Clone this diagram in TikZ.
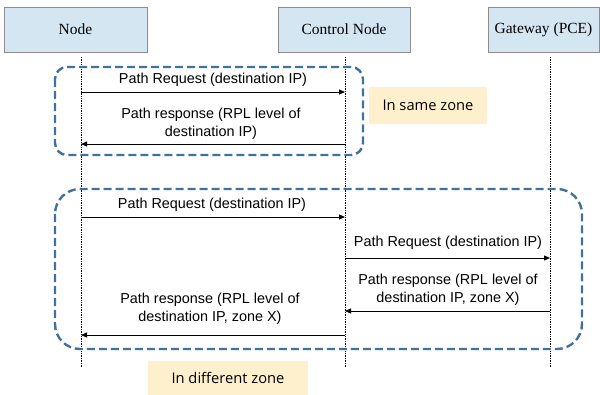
\documentclass[tikz,border=0pt]{standalone}
\usepackage{fontspec}
\setmainfont{Liberation Serif}
\setsansfont{Liberation Sans}
\newfontfamily\zonefont{Open Sans}
\usetikzlibrary{arrows.meta}
\definecolor{hdrfill}{HTML}{D5E6F3}
\definecolor{hdrline}{HTML}{8C8C8C}
\definecolor{zoneblue}{HTML}{41719C}
\definecolor{notefill}{HTML}{FEF0CD}
\begin{document}
\begin{tikzpicture}[x=1pt,y=-1pt,
  header/.style={draw=hdrline, fill=hdrfill, line width=0.6pt, minimum height=45pt, inner sep=0pt, font=\fontsize{15.5}{18}\selectfont},
  lifeline/.style={densely dotted, line width=0.7pt},
  msg/.style={line width=1pt, -{Triangle[length=6pt,width=5pt]}},
  lbl/.style={font=\sffamily\fontsize{14.4}{18}\selectfont, align=center, inner sep=0pt},
  zone/.style={draw=zoneblue, line width=2.4pt, dash pattern=on 8pt off 4pt},
  note/.style={fill=notefill, inner sep=0pt, font=\zonefont\fontsize{14.7}{18}\selectfont}]
\useasboundingbox (0,0) rectangle (600,394);

% header boxes
\node[header, minimum width=143pt] (hnode) at (75.5,29.5) {Node};
\node[header, minimum width=132pt] (hctrl) at (344,29.5) {Control Node};
\node[header, minimum width=111pt] (hgate) at (543.5,29.5) {Gateway (PCE)};

% lifelines
\coordinate (ntop) at (81,57);  \coordinate (nbot) at (81,368);
\coordinate (ctop) at (345,57); \coordinate (cbot) at (345,368);
\coordinate (gtop) at (550,57); \coordinate (gbot) at (550,368);
\draw[lifeline] (ntop) -- (nbot);
\draw[lifeline] (ctop) -- (cbot);
\draw[lifeline] (gtop) -- (gbot);

% zone frames
\draw[zone, rounded corners=12pt] (55,67) rectangle (363,155);
\draw[zone, rounded corners=25pt] (55,189) rectangle (582,349);

% same zone messages
\coordinate (n1) at (81,92);  \coordinate (c1) at (345,92);
\coordinate (n2) at (81,144); \coordinate (c2) at (345,144);
\draw[msg] (n1) -- (c1);
\draw[msg] (c2) -- (n2);
\node[lbl] (l1) at (213,80) {Path Request (destination IP)};
\node[lbl] (l2) at (211,124) {Path response (RPL level of\\destination IP)};

% different zone messages
\coordinate (n3) at (81,217);  \coordinate (c3) at (345,217);
\coordinate (c4) at (345,258); \coordinate (g4) at (550,258);
\coordinate (g5) at (550,311); \coordinate (c5) at (345,311);
\coordinate (c6) at (345,335); \coordinate (n6) at (81,335);
\draw[msg] (n3) -- (c3);
\draw[msg] (c4) -- (g4);
\draw[msg] (g5) -- (c5);
\draw[msg] (c6) -- (n6);
\node[lbl] (l3) at (212,205) {Path Request (destination IP)};
\node[lbl] (l4) at (448,243) {Path Request (destination IP)};
\node[lbl] (l5) at (448,290) {Path response (RPL level of\\destination IP, zone X)};
\node[lbl] (l6) at (210,309) {Path response (RPL level of\\destination IP, zone X)};

% notes
\node[note, minimum width=118pt, minimum height=37pt] (same) at (428,105) {In same zone};
\node[note, minimum width=160pt, minimum height=34pt] (diff) at (228,378) {In different zone};
\end{tikzpicture}
\end{document}
